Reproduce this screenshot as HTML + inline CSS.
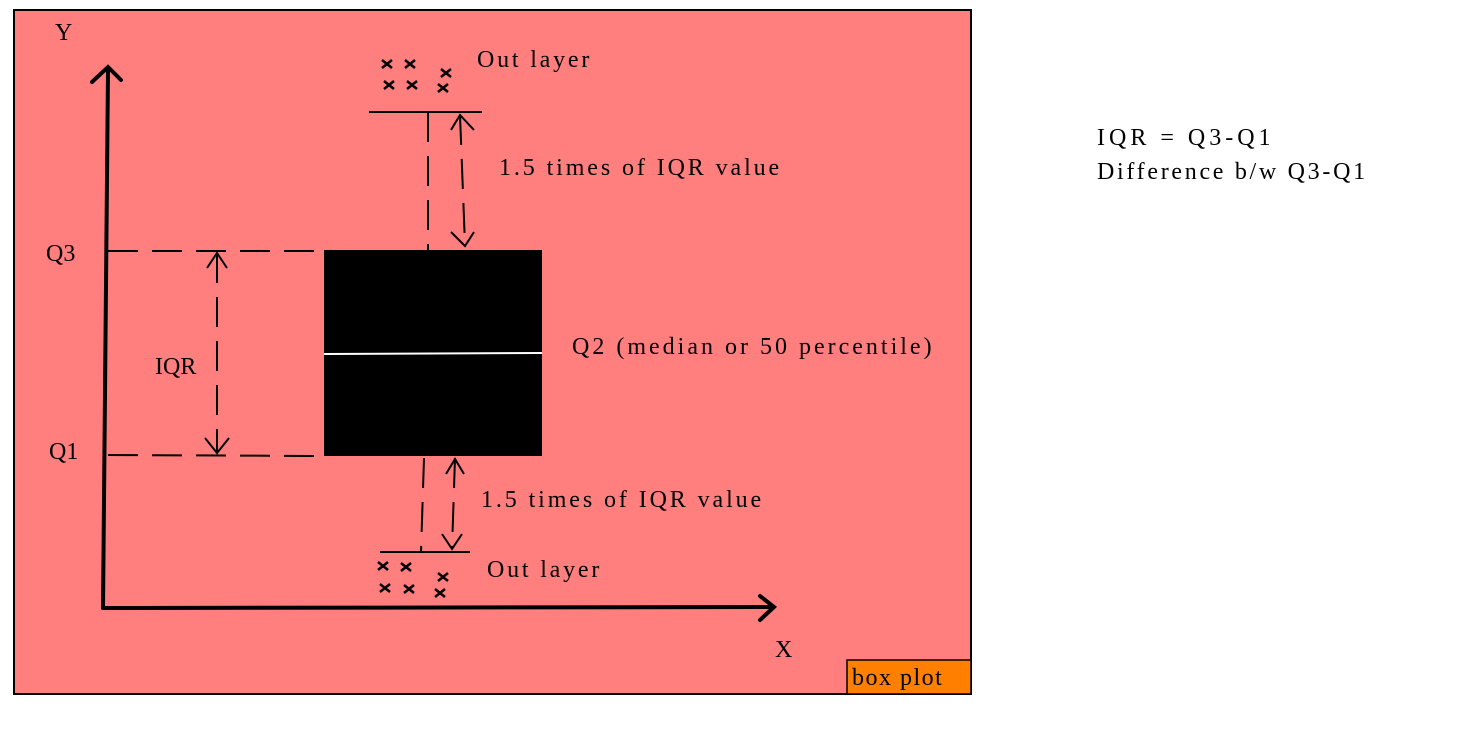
<!DOCTYPE html>
<html><head><style>
body{margin:0;background:#fff;width:1478px;height:747px;overflow:hidden}
svg text{font-family:"Liberation Serif",serif;fill:#000}
</style></head><body>
<svg width="1478" height="747" viewBox="0 0 1478 747" xmlns="http://www.w3.org/2000/svg">
<rect x="14" y="10" width="957" height="684" fill="#ff7f7f" stroke="#000" stroke-width="2"/>
<rect x="847" y="660" width="124" height="34" fill="#ff8000" stroke="#000" stroke-width="1.5"/>
<text x="852" y="685" font-size="24" letter-spacing="1.5">box plot</text>
<g stroke="#000" fill="none" stroke-width="4" stroke-linecap="round">
<path d="M103 608 L108 70"/><path d="M92 82 L108 67 L121 80"/>
<path d="M103 608 L772 607"/><path d="M760 596 L774 607 L760 620"/>
</g>
<rect x="324" y="250" width="218" height="206" fill="#000"/>
<line x1="324" y1="354" x2="542" y2="353" stroke="#fff" stroke-width="2"/>
<g stroke="#000" stroke-width="2" fill="none">
<line x1="108" y1="251" x2="324" y2="251" stroke-dasharray="30,14"/>
<line x1="108" y1="455" x2="324" y2="456" stroke-dasharray="30,14"/>
<line x1="217" y1="253" x2="217" y2="453" stroke-dasharray="30,14"/>
<path d="M207 268 L217 253 L227 268"/><path d="M205 438 L217 453 L229 438"/>
<line x1="369" y1="112" x2="482" y2="112"/>
<line x1="428" y1="112" x2="428" y2="250" stroke-dasharray="30,14"/>
<line x1="460" y1="115" x2="465" y2="245" stroke-dasharray="30,14"/>
<path d="M451 130 L460 115 L474 130"/><path d="M451 232 L465 246 L474 232"/>
<line x1="380" y1="552" x2="470" y2="552"/>
<line x1="424" y1="458" x2="421" y2="552" stroke-dasharray="30,14"/>
<line x1="455" y1="458" x2="452" y2="549" stroke-dasharray="30,14"/>
<path d="M446 474 L455 459 L464 474"/><path d="M442 534 L452 549 L462 534"/>
</g>
<g stroke="#000" stroke-width="2.5" fill="none">
<path d="M382 60l10 8M392 60l-10 8"/><path d="M405 60l10 8M415 60l-10 8"/><path d="M441 69l10 8M451 69l-10 8"/>
<path d="M384 81l10 8M394 81l-10 8"/><path d="M407 81l10 8M417 81l-10 8"/><path d="M438 84l10 8M448 84l-10 8"/>
<path d="M378 562l10 8M388 562l-10 8"/><path d="M401 563l10 8M411 563l-10 8"/><path d="M438 573l10 8M448 573l-10 8"/>
<path d="M380 584l10 8M390 584l-10 8"/><path d="M404 585l10 8M414 585l-10 8"/><path d="M435 589l10 8M445 589l-10 8"/>
</g>
<g font-size="24">
<text x="55" y="40">Y</text>
<text x="775" y="657">X</text>
<text x="477" y="67" letter-spacing="2.8">Out layer</text>
<text x="487" y="577" letter-spacing="2.8">Out layer</text>
<text x="499" y="175" letter-spacing="2.9">1.5 times of IQR value</text>
<text x="481" y="507" letter-spacing="2.9">1.5 times of IQR value</text>
<text x="572" y="354" letter-spacing="3">Q2 (median or 50 percentile)</text>
<text x="46" y="261">Q3</text>
<text x="49" y="459">Q1</text>
<text x="155" y="374">IQR</text>
</g>
<g font-size="24" font-family="Liberation Sans,sans-serif">
<text x="1097" y="145" letter-spacing="4">IQR = Q3-Q1</text>
<text x="1097" y="179" letter-spacing="2.7">Difference b/w Q3-Q1</text>
</g>
</svg>
</body></html>
